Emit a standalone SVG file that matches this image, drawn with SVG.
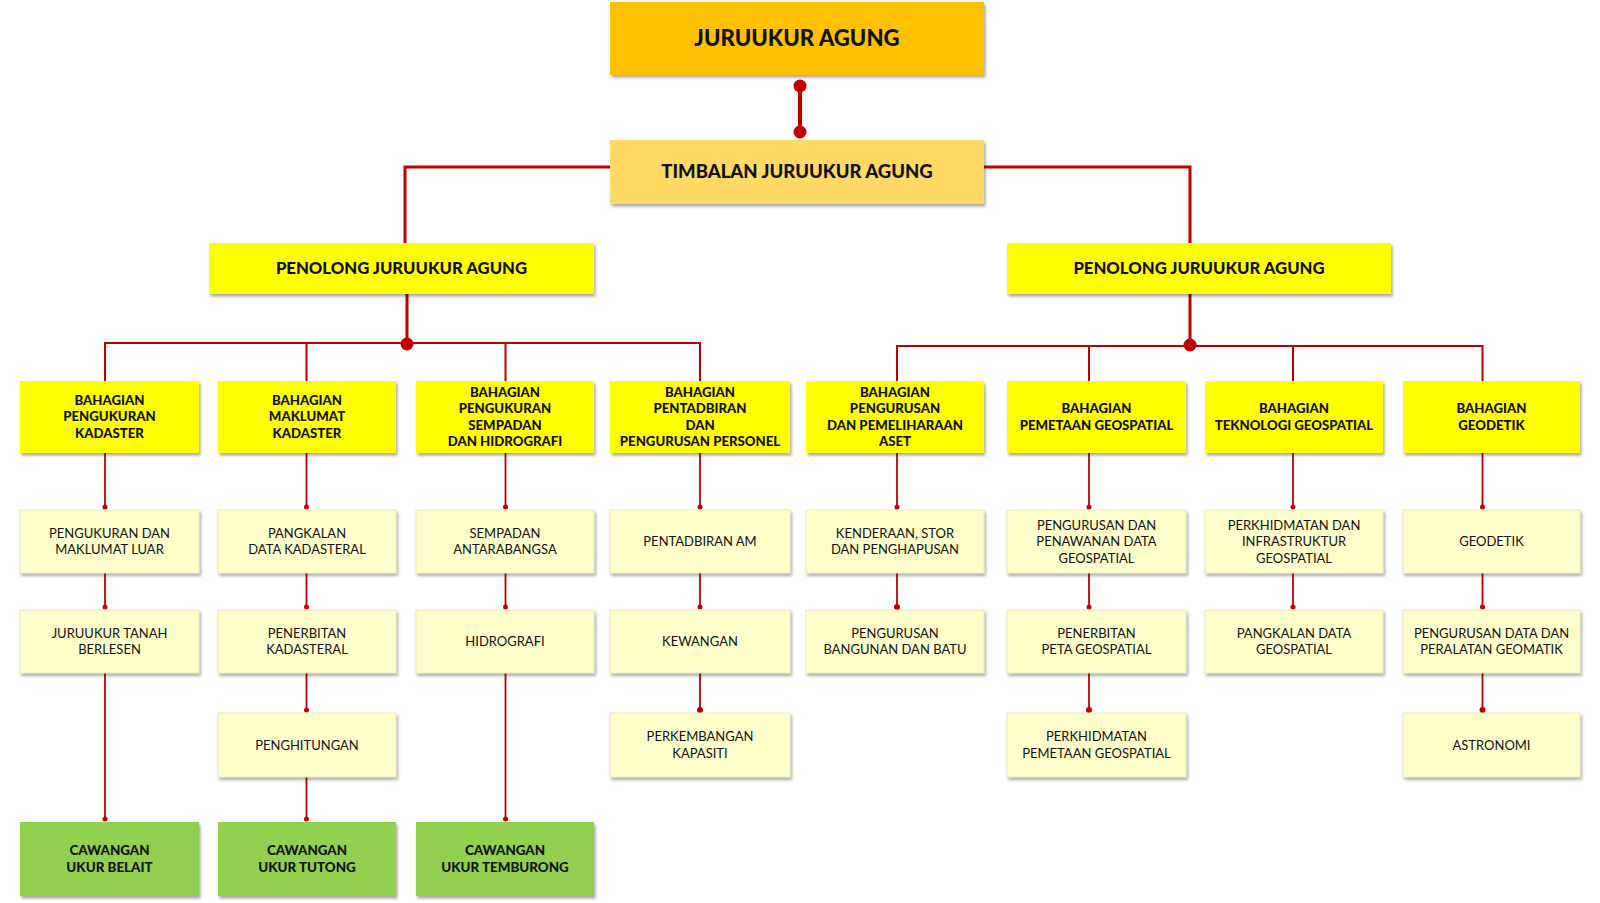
<svg xmlns="http://www.w3.org/2000/svg" width="1600" height="903" viewBox="0 0 1600 903">
<defs>
<filter id="sh" x="-10%" y="-20%" width="125%" height="150%">
<feDropShadow dx="1.5" dy="2.5" stdDeviation="1.5" flood-color="#000" flood-opacity="0.35"/>
</filter>
<style>
.top{fill:#FFC000}
.dep{fill:#FFD966}
.yel{fill:#FFFF00}
.sub{fill:#FFFFCC;stroke:#E3E3B8;stroke-width:0.8}
.grn{fill:#92D050}
rect{filter:url(#sh)}
text{font-family:Lato,"Liberation Sans",sans-serif;text-anchor:middle;fill:#111}
.t1{font-size:22.2px;font-weight:900}
.t2{font-size:18.5px;font-weight:900}
.t3{font-size:16.7px;font-weight:900}
.tb{font-size:13.2px;font-weight:900}
.tg{font-size:13.4px;font-weight:900}
.ts{font-size:13px;font-weight:400}
.ln{stroke:#C00000;fill:none}
.dot{fill:#C00000}
</style>
</defs>
<rect width="1600" height="903" fill="#FFFFFF" style="filter:none"/>

<g id="connectors">
<line class="ln" x1="800" y1="86" x2="800" y2="132" stroke-width="4"/>
<circle class="dot" cx="800" cy="86" r="6.5"/>
<circle class="dot" cx="800" cy="132" r="6.5"/>
<path class="ln" d="M610,167 H405 V243" stroke-width="3"/>
<path class="ln" d="M984,167 H1190 V243" stroke-width="3"/>
<path class="ln" d="M407,294 V344" stroke-width="3"/>
<path class="ln" d="M105,381 V343 H700 V381 M306.5,343 V381 M505.5,343 V381" stroke-width="2"/>
<circle class="dot" cx="407" cy="344" r="6.5"/>
<path class="ln" d="M1190,294 V345" stroke-width="3"/>
<path class="ln" d="M897,381 V346 H1482.5 V381 M1089,346 V381 M1293,346 V381" stroke-width="2"/>
<circle class="dot" cx="1190" cy="345" r="6.5"/>
<g stroke-width="1.8">
<path class="ln" d="M105,453 V507 M105,573 V607 M105,673 V819"/>
<path class="ln" d="M306.5,453 V507 M306.5,573 V607 M306.5,673 V710 M306.5,777 V819"/>
<path class="ln" d="M505.5,453 V507 M505.5,573 V607 M505.5,673 V819"/>
<path class="ln" d="M700,453 V507 M700,573 V607 M700,673 V710"/>
<path class="ln" d="M897,453 V507 M897,573 V607"/>
<path class="ln" d="M1089,453 V507 M1089,573 V607 M1089,673 V710"/>
<path class="ln" d="M1293,453 V507 M1293,573 V607"/>
<path class="ln" d="M1482.5,453 V507 M1482.5,573 V607 M1482.5,673 V710"/>
</g>
<g class="dot">
<circle cx="105" cy="507" r="2.5"/><circle cx="105" cy="607" r="2.5"/><circle cx="105" cy="819" r="2.5"/>
<circle cx="306.5" cy="507" r="2.5"/><circle cx="306.5" cy="607" r="2.5"/><circle cx="306.5" cy="710" r="2.5"/><circle cx="306.5" cy="819" r="2.5"/>
<circle cx="505.5" cy="507" r="2.5"/><circle cx="505.5" cy="607" r="2.5"/><circle cx="505.5" cy="819" r="2.5"/>
<circle cx="700" cy="507" r="2.5"/><circle cx="700" cy="607" r="2.5"/><circle cx="700" cy="710" r="3"/>
<circle cx="897" cy="507" r="2.5"/><circle cx="897" cy="607" r="3"/>
<circle cx="1089" cy="507" r="2.5"/><circle cx="1089" cy="607" r="2.5"/><circle cx="1089" cy="710" r="3"/>
<circle cx="1293" cy="507" r="2.5"/><circle cx="1293" cy="607" r="2.5"/>
<circle cx="1482.5" cy="507" r="2.5"/><circle cx="1482.5" cy="607" r="2.5"/><circle cx="1482.5" cy="710" r="3"/>
</g>
</g>

<g id="n-juruukur-agung"><rect class="top" x="610" y="2" width="374" height="73"/><text class="t1" x="797" y="46">JURUUKUR AGUNG</text></g>
<g id="n-timbalan"><rect class="dep" x="610" y="140" width="374" height="64"/><text class="t2" x="797" y="178">TIMBALAN JURUUKUR AGUNG</text></g>
<g id="n-penolong-1"><rect class="yel" x="209" y="243" width="385" height="51"/><text class="t3" x="401.5" y="274">PENOLONG JURUUKUR AGUNG</text></g>
<g id="n-penolong-2"><rect class="yel" x="1007" y="243" width="384" height="51"/><text class="t3" x="1199" y="274">PENOLONG JURUUKUR AGUNG</text></g>

<g id="b1"><rect class="yel" x="20" y="381" width="179" height="72"/><text class="tb" x="109.5" y="404.5">BAHAGIAN</text><text class="tb" x="109.5" y="421">PENGUKURAN</text><text class="tb" x="109.5" y="437.5">KADASTER</text></g>
<g id="b2"><rect class="yel" x="218" y="381" width="178" height="72"/><text class="tb" x="307" y="404.5">BAHAGIAN</text><text class="tb" x="307" y="421">MAKLUMAT</text><text class="tb" x="307" y="437.5">KADASTER</text></g>
<g id="b3"><rect class="yel" x="416" y="381" width="178" height="72"/><text class="tb" x="505" y="396.5">BAHAGIAN</text><text class="tb" x="505" y="413">PENGUKURAN</text><text class="tb" x="505" y="429.5">SEMPADAN</text><text class="tb" x="505" y="446">DAN HIDROGRAFI</text></g>
<g id="b4"><rect class="yel" x="610" y="381" width="180" height="72"/><text class="tb" x="700" y="396.5">BAHAGIAN</text><text class="tb" x="700" y="413">PENTADBIRAN</text><text class="tb" x="700" y="429.5">DAN</text><text class="tb" x="700" y="446">PENGURUSAN PERSONEL</text></g>
<g id="b5"><rect class="yel" x="806" y="381" width="178" height="72"/><text class="tb" x="895" y="396.5">BAHAGIAN</text><text class="tb" x="895" y="413">PENGURUSAN</text><text class="tb" x="895" y="429.5">DAN PEMELIHARAAN</text><text class="tb" x="895" y="446">ASET</text></g>
<g id="b6"><rect class="yel" x="1007" y="381" width="179" height="72"/><text class="tb" x="1096.5" y="413">BAHAGIAN</text><text class="tb" x="1096.5" y="429.5">PEMETAAN GEOSPATIAL</text></g>
<g id="b7"><rect class="yel" x="1205" y="381" width="178" height="72"/><text class="tb" x="1294" y="413">BAHAGIAN</text><text class="tb" x="1294" y="429.5">TEKNOLOGI GEOSPATIAL</text></g>
<g id="b8"><rect class="yel" x="1403" y="381" width="177" height="72"/><text class="tb" x="1491.5" y="413">BAHAGIAN</text><text class="tb" x="1491.5" y="429.5">GEODETIK</text></g>

<g id="s1"><rect class="sub" x="20" y="510" width="179" height="63"/><text class="ts" x="109.5" y="537.5">PENGUKURAN DAN</text><text class="ts" x="109.5" y="554">MAKLUMAT LUAR</text></g>
<g id="s2"><rect class="sub" x="218" y="510" width="178" height="63"/><text class="ts" x="307" y="537.5">PANGKALAN</text><text class="ts" x="307" y="554">DATA KADASTERAL</text></g>
<g id="s3"><rect class="sub" x="416" y="510" width="178" height="63"/><text class="ts" x="505" y="537.5">SEMPADAN</text><text class="ts" x="505" y="554">ANTARABANGSA</text></g>
<g id="s4"><rect class="sub" x="610" y="510" width="180" height="63"/><text class="ts" x="700" y="546">PENTADBIRAN AM</text></g>
<g id="s5"><rect class="sub" x="806" y="510" width="178" height="63"/><text class="ts" x="895" y="537.5">KENDERAAN, STOR</text><text class="ts" x="895" y="554">DAN PENGHAPUSAN</text></g>
<g id="s6"><rect class="sub" x="1007" y="510" width="179" height="63"/><text class="ts" x="1096.5" y="529.5">PENGURUSAN DAN</text><text class="ts" x="1096.5" y="546">PENAWANAN DATA</text><text class="ts" x="1096.5" y="562.5">GEOSPATIAL</text></g>
<g id="s7"><rect class="sub" x="1205" y="510" width="178" height="63"/><text class="ts" x="1294" y="529.5">PERKHIDMATAN DAN</text><text class="ts" x="1294" y="546">INFRASTRUKTUR</text><text class="ts" x="1294" y="562.5">GEOSPATIAL</text></g>
<g id="s8"><rect class="sub" x="1403" y="510" width="177" height="63"/><text class="ts" x="1491.5" y="546">GEODETIK</text></g>

<g id="r1"><rect class="sub" x="20" y="610" width="179" height="63"/><text class="ts" x="109.5" y="637.5">JURUUKUR TANAH</text><text class="ts" x="109.5" y="654">BERLESEN</text></g>
<g id="r2"><rect class="sub" x="218" y="610" width="178" height="63"/><text class="ts" x="307" y="637.5">PENERBITAN</text><text class="ts" x="307" y="654">KADASTERAL</text></g>
<g id="r3"><rect class="sub" x="416" y="610" width="178" height="63"/><text class="ts" x="505" y="646">HIDROGRAFI</text></g>
<g id="r4"><rect class="sub" x="610" y="610" width="180" height="63"/><text class="ts" x="700" y="646">KEWANGAN</text></g>
<g id="r5"><rect class="sub" x="806" y="610" width="178" height="63"/><text class="ts" x="895" y="637.5">PENGURUSAN</text><text class="ts" x="895" y="654">BANGUNAN DAN BATU</text></g>
<g id="r6"><rect class="sub" x="1007" y="610" width="179" height="63"/><text class="ts" x="1096.5" y="637.5">PENERBITAN</text><text class="ts" x="1096.5" y="654">PETA GEOSPATIAL</text></g>
<g id="r7"><rect class="sub" x="1205" y="610" width="178" height="63"/><text class="ts" x="1294" y="637.5">PANGKALAN DATA</text><text class="ts" x="1294" y="654">GEOSPATIAL</text></g>
<g id="r8"><rect class="sub" x="1403" y="610" width="177" height="63"/><text class="ts" x="1491.5" y="637.5">PENGURUSAN DATA DAN</text><text class="ts" x="1491.5" y="654">PERALATAN GEOMATIK</text></g>

<g id="q2"><rect class="sub" x="218" y="713" width="178" height="64"/><text class="ts" x="307" y="749.5">PENGHITUNGAN</text></g>
<g id="q4"><rect class="sub" x="610" y="713" width="180" height="64"/><text class="ts" x="700" y="741">PERKEMBANGAN</text><text class="ts" x="700" y="757.5">KAPASITI</text></g>
<g id="q6"><rect class="sub" x="1007" y="713" width="179" height="64"/><text class="ts" x="1096.5" y="741">PERKHIDMATAN</text><text class="ts" x="1096.5" y="757.5">PEMETAAN GEOSPATIAL</text></g>
<g id="q8"><rect class="sub" x="1403" y="713" width="177" height="64"/><text class="ts" x="1491.5" y="749.5">ASTRONOMI</text></g>

<g id="g1"><rect class="grn" x="20" y="822" width="179" height="74"/><text class="tg" x="109.5" y="855">CAWANGAN</text><text class="tg" x="109.5" y="871.5">UKUR BELAIT</text></g>
<g id="g2"><rect class="grn" x="218" y="822" width="178" height="74"/><text class="tg" x="307" y="855">CAWANGAN</text><text class="tg" x="307" y="871.5">UKUR TUTONG</text></g>
<g id="g3"><rect class="grn" x="416" y="822" width="178" height="74"/><text class="tg" x="505" y="855">CAWANGAN</text><text class="tg" x="505" y="871.5">UKUR TEMBURONG</text></g>
</svg>
